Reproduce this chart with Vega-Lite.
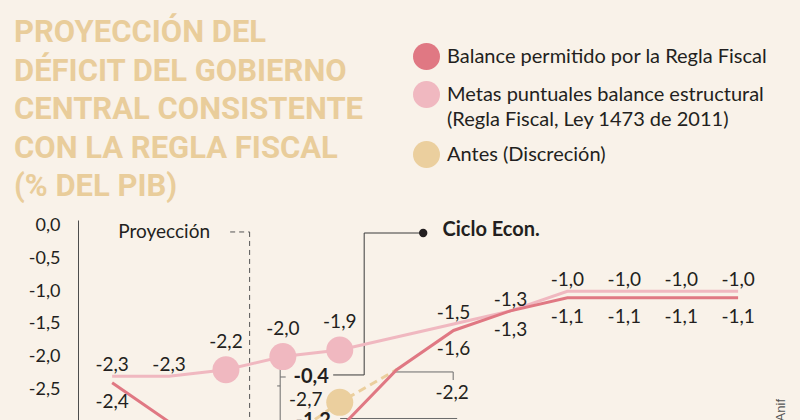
{
  "$schema": "https://vega.github.io/schema/vega-lite/v6.json",
  "width": 717,
  "height": 200,
  "autosize": {"type": "none"},
  "padding": {"left": 78, "top": 220, "right": 5, "bottom": 0},
  "background": "#f9f2e9",
  "config": {"view": {"stroke": null}, "font": "Lato", "style": {"guide-label": {"lineHeight": 25}}},
  "title": {
    "text": ["PROYECCIÓN DEL", "DÉFICIT DEL GOBIERNO", "CENTRAL CONSISTENTE", "CON LA REGLA FISCAL", "(% DEL PIB)"],
    "anchor": "start",
    "frame": "group",
    "font": "Roboto",
    "fontSize": 31,
    "fontWeight": "bold",
    "color": "#e9cd9b",
    "lineHeight": 38.5,
    "dx": -64,
    "dy": 170,
    "offset": 10
  },
  "datasets": {
    "series": [
      {"serie": "Balance permitido por la Regla Fiscal", "year": 2014, "value": -2.4, "label": "-2,4", "marker": false},
      {"serie": "Balance permitido por la Regla Fiscal", "year": 2015, "value": -3.0, "label": null, "marker": false},
      {"serie": "Balance permitido por la Regla Fiscal", "year": 2016, "value": -4.0, "label": null, "marker": false},
      {"serie": "Balance permitido por la Regla Fiscal", "year": 2017, "value": -3.6, "label": null, "marker": false},
      {"serie": "Balance permitido por la Regla Fiscal", "year": 2018, "value": -3.1, "label": null, "marker": false},
      {"serie": "Balance permitido por la Regla Fiscal", "year": 2019, "value": -2.2, "label": null, "marker": false},
      {"serie": "Balance permitido por la Regla Fiscal", "year": 2020, "value": -1.6, "label": "-1,6", "marker": false},
      {"serie": "Balance permitido por la Regla Fiscal", "year": 2021, "value": -1.3, "label": "-1,3", "marker": false},
      {"serie": "Balance permitido por la Regla Fiscal", "year": 2022, "value": -1.1, "label": "-1,1", "marker": false},
      {"serie": "Balance permitido por la Regla Fiscal", "year": 2023, "value": -1.1, "label": "-1,1", "marker": false},
      {"serie": "Balance permitido por la Regla Fiscal", "year": 2024, "value": -1.1, "label": "-1,1", "marker": false},
      {"serie": "Balance permitido por la Regla Fiscal", "year": 2025, "value": -1.1, "label": "-1,1", "marker": false},
      {"serie": "Metas puntuales balance estructural (Regla Fiscal, Ley 1473 de 2011)", "year": 2014, "value": -2.3, "label": "-2,3", "marker": false},
      {"serie": "Metas puntuales balance estructural (Regla Fiscal, Ley 1473 de 2011)", "year": 2015, "value": -2.3, "label": "-2,3", "marker": false},
      {"serie": "Metas puntuales balance estructural (Regla Fiscal, Ley 1473 de 2011)", "year": 2016, "value": -2.2, "label": "-2,2", "marker": true},
      {"serie": "Metas puntuales balance estructural (Regla Fiscal, Ley 1473 de 2011)", "year": 2017, "value": -2.0, "label": "-2,0", "marker": true},
      {"serie": "Metas puntuales balance estructural (Regla Fiscal, Ley 1473 de 2011)", "year": 2018, "value": -1.9, "label": "-1,9", "marker": true},
      {"serie": "Metas puntuales balance estructural (Regla Fiscal, Ley 1473 de 2011)", "year": 2019, "value": -1.7, "label": null, "marker": false},
      {"serie": "Metas puntuales balance estructural (Regla Fiscal, Ley 1473 de 2011)", "year": 2020, "value": -1.5, "label": "-1,5", "marker": false},
      {"serie": "Metas puntuales balance estructural (Regla Fiscal, Ley 1473 de 2011)", "year": 2021, "value": -1.3, "label": "-1,3", "marker": false},
      {"serie": "Metas puntuales balance estructural (Regla Fiscal, Ley 1473 de 2011)", "year": 2022, "value": -1.0, "label": "-1,0", "marker": false},
      {"serie": "Metas puntuales balance estructural (Regla Fiscal, Ley 1473 de 2011)", "year": 2023, "value": -1.0, "label": "-1,0", "marker": false},
      {"serie": "Metas puntuales balance estructural (Regla Fiscal, Ley 1473 de 2011)", "year": 2024, "value": -1.0, "label": "-1,0", "marker": false},
      {"serie": "Metas puntuales balance estructural (Regla Fiscal, Ley 1473 de 2011)", "year": 2025, "value": -1.0, "label": "-1,0", "marker": false},
      {"serie": "Antes (Discreción)", "year": 2017, "value": -3.3, "label": null, "marker": false},
      {"serie": "Antes (Discreción)", "year": 2018, "value": -2.7, "label": "-2,7", "marker": true},
      {"serie": "Antes (Discreción)", "year": 2019, "value": -2.2, "label": null, "marker": false}
    ],
    "rules": [
      {"t": "dash", "year": 2016.074, "year2": 2016.416, "value": -0.093, "value2": -0.093},
      {"t": "dash", "year": 2016.416, "year2": 2016.416, "value": -0.093, "value2": -3.3},
      {"t": "dark", "year": 2018.429, "year2": 2019.466, "value": -0.109, "value2": -0.109},
      {"t": "dark", "year": 2018.429, "year2": 2018.429, "value": -0.109, "value2": -2.281},
      {"t": "dark", "year": 2017.884, "year2": 2018.429, "value": -2.281, "value2": -2.281},
      {"t": "gray", "year": 2016.953, "year2": 2016.953, "value": -2.159, "value2": -3.3},
      {"t": "gray", "year": 2016.953, "year2": 2017.005, "value": -2.159, "value2": -2.159},
      {"t": "gray", "year": 2016.953, "year2": 2017.05, "value": -2.312, "value2": -2.312},
      {"t": "gray", "year": 2016.9, "year2": 2016.953, "value": -2.449, "value2": -2.449},
      {"t": "gray", "year": 2018.007, "year2": 2020.063, "value": -2.947, "value2": -2.947},
      {"t": "gray", "year": 2018.938, "year2": 2019.993, "value": -2.235, "value2": -2.235},
      {"t": "gray", "year": 2019.993, "year2": 2019.993, "value": -2.235, "value2": -2.358}
    ],
    "notes": [
      {"t": "regular", "year": 2014.914, "value": -0.093, "text": "Proyección"},
      {"t": "bold", "year": 2020.66, "value": -0.07, "text": "Ciclo Econ."},
      {"t": "bold", "year": 2017.497, "value": -2.312, "text": "-0,4"},
      {"t": "bold", "year": 2017.532, "value": -2.985, "text": "-1,2"},
      {"t": "regular", "year": 2019.975, "value": -2.557, "text": "-2,2"},
      {"t": "dot", "year": 2019.466, "value": -0.109, "text": ""},
      {"t": "credit", "year": 2025.76, "value": -2.82, "text": "Anif"}
    ]
  },
  "encoding": {
    "x": {"field": "year", "type": "quantitative", "scale": {"domain": [2013.4, 2026], "nice": false, "zero": false}, "axis": null},
    "y": {
      "field": "value",
      "type": "quantitative",
      "scale": {"domain": [-2.97, 0.09], "nice": false, "zero": false},
      "axis": {
        "title": null,
        "values": [0, -0.5, -1, -1.5, -2, -2.5, -3],
        "ticks": false,
        "grid": false,
        "domainColor": "#4d4d4d",
        "domainWidth": 1,
        "labelFont": "Lato",
        "labelFontSize": 18,
        "labelColor": "#231f20",
        "labelPadding": 18,
        "labelBaseline": "middle",
        "labelExpr": "replace(replace(format(datum.value, '.1f'), '\u2212', '-'), '.', ',')"
      }
    }
  },
  "layer": [
    {
      "data": {"name": "rules"},
      "transform": [{"filter": "datum.t == 'dash'"}],
      "mark": {"type": "rule", "color": "#555555", "strokeWidth": 1, "strokeDash": [5, 4]},
      "encoding": {"x2": {"field": "year2"}, "y2": {"field": "value2"}}
    },
    {
      "data": {"name": "rules"},
      "transform": [{"filter": "datum.t == 'gray'"}],
      "mark": {"type": "rule", "color": "#6b6b6b", "strokeWidth": 1},
      "encoding": {"x2": {"field": "year2"}, "y2": {"field": "value2"}}
    },
    {
      "data": {"name": "rules"},
      "transform": [{"filter": "datum.t == 'dark'"}],
      "mark": {"type": "rule", "color": "#3a3a3a", "strokeWidth": 1},
      "encoding": {"x2": {"field": "year2"}, "y2": {"field": "value2"}}
    },
    {
      "data": {"name": "series"},
      "transform": [{"filter": "datum.serie == 'Metas puntuales balance estructural (Regla Fiscal, Ley 1473 de 2011)'"}],
      "mark": {"type": "line", "color": "#f0b8c0", "strokeWidth": 3, "clip": true},
      "encoding": {}
    },
    {
      "data": {"name": "series"},
      "transform": [{"filter": "datum.serie == 'Antes (Discreción)'"}],
      "mark": {"type": "line", "color": "#ebcf9e", "strokeWidth": 3, "strokeDash": [8, 5], "clip": true},
      "encoding": {}
    },
    {
      "data": {"name": "series"},
      "transform": [{"filter": "datum.serie == 'Balance permitido por la Regla Fiscal'"}],
      "mark": {"type": "line", "color": "#e07883", "strokeWidth": 3, "clip": true},
      "encoding": {}
    },
    {
      "data": {"name": "series"},
      "transform": [{"filter": "datum.marker"}],
      "mark": {"type": "circle", "size": 729, "opacity": 1},
      "encoding": {
        "color": {
          "field": "serie",
          "type": "nominal",
          "scale": {
            "domain": ["Balance permitido por la Regla Fiscal", "Metas puntuales balance estructural (Regla Fiscal, Ley 1473 de 2011)", "Antes (Discreción)"],
            "range": ["#e07883", "#f0b8c0", "#ebcf9e"]
          },
          "legend": {
            "orient": "none",
            "legendX": 335,
            "legendY": -177,
            "title": null,
            "symbolType": "circle",
            "symbolSize": 729,
            "symbolOpacity": 1,
            "symbolStrokeWidth": 0,
            "labelFont": "Lato",
            "labelFontSize": 20,
            "labelColor": "#231f20",
            "labelOffset": 7,
            "labelLimit": 420,
            "rowPadding": 11,
            "labelExpr": "indexof(datum.label, 'Metas') == 0 ? ['Metas puntuales balance estructural', '(Regla Fiscal, Ley 1473 de 2011)'] : datum.label"
          }
        }
      }
    },
    {
      "data": {"name": "notes"},
      "transform": [{"filter": "datum.t == 'dot'"}],
      "mark": {"type": "circle", "size": 70, "opacity": 1, "color": "#231f20"},
      "encoding": {}
    },
    {
      "data": {"name": "series"},
      "transform": [{"filter": "datum.label != null && !datum.marker && datum.serie != 'Balance permitido por la Regla Fiscal'"}],
      "mark": {"type": "text", "fontSize": 19, "color": "#231f20", "dy": -11, "baseline": "middle"},
      "encoding": {"text": {"field": "label"}}
    },
    {
      "data": {"name": "series"},
      "transform": [{"filter": "datum.label != null && datum.marker && datum.serie == 'Metas puntuales balance estructural (Regla Fiscal, Ley 1473 de 2011)'"}],
      "mark": {"type": "text", "fontSize": 19, "color": "#231f20", "dy": -28, "baseline": "middle"},
      "encoding": {"text": {"field": "label"}}
    },
    {
      "data": {"name": "series"},
      "transform": [{"filter": "datum.label != null && datum.serie == 'Balance permitido por la Regla Fiscal'"}],
      "mark": {"type": "text", "fontSize": 19, "color": "#231f20", "dy": 19, "baseline": "middle"},
      "encoding": {"text": {"field": "label"}}
    },
    {
      "data": {"name": "series"},
      "transform": [{"filter": "datum.label != null && datum.serie == 'Antes (Discreción)'"}],
      "mark": {"type": "text", "fontSize": 19, "color": "#231f20", "dx": -34, "dy": -2, "baseline": "middle"},
      "encoding": {"text": {"field": "label"}}
    },
    {
      "data": {"name": "notes"},
      "transform": [{"filter": "datum.t == 'regular'"}],
      "mark": {"type": "text", "fontSize": 19, "color": "#231f20", "baseline": "middle"},
      "encoding": {"text": {"field": "text"}}
    },
    {
      "data": {"name": "notes"},
      "transform": [{"filter": "datum.t == 'bold'"}],
      "mark": {"type": "text", "fontSize": 20, "fontWeight": "bold", "color": "#231f20", "baseline": "middle"},
      "encoding": {"text": {"field": "text"}}
    },
    {
      "data": {"name": "notes"},
      "transform": [{"filter": "datum.t == 'credit'"}],
      "mark": {"type": "text", "fontSize": 13, "font": "Liberation Sans", "angle": 270, "color": "#555555", "baseline": "middle"},
      "encoding": {"text": {"field": "text"}}
    }
  ]
}
